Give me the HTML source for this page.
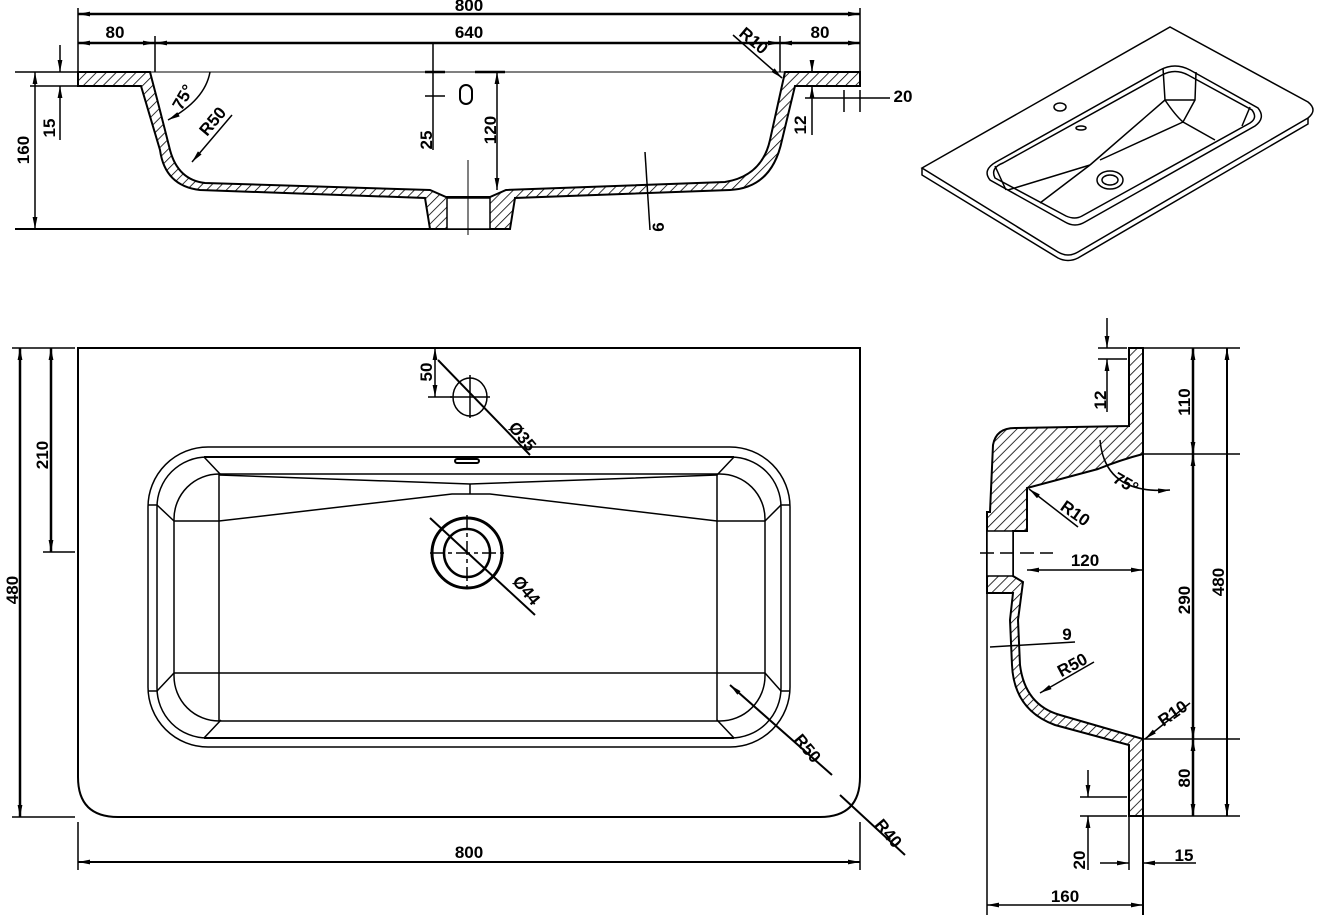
<!DOCTYPE html>
<html><head><meta charset="utf-8"><style>
html,body{margin:0;padding:0;background:#fff;}
svg{display:block;}
text{font-family:"Liberation Sans",sans-serif;font-size:17px;font-weight:bold;fill:#000;}
</style></head><body>
<svg width="1318" height="919" viewBox="0 0 1318 919" xmlns="http://www.w3.org/2000/svg">
<defs>
<pattern id="h" patternUnits="userSpaceOnUse" width="7" height="7" patternTransform="rotate(45)">
<rect width="7" height="7" fill="#fff"/><line x1="0" y1="0" x2="0" y2="7" stroke="#000" stroke-width="1.6"/>
</pattern>
<marker id="a" viewBox="0 0 10 4" refX="10" refY="2" markerUnits="userSpaceOnUse" markerWidth="12" markerHeight="5" orient="auto-start-reverse"><path d="M0,0 L10,2 L0,4z" fill="#000"/></marker>
</defs>
<g fill="none" stroke="#000" stroke-width="1.5">

<!-- ===== TOP SECTION ===== -->
<path d="M78,72 L150,72 Q160,110 170,150 Q178,180 205,183 L430,190 L446,197 L490,197 L506,190 L725,182 Q762,176 770,140 L785,72 L860,72 L860,86 L795,86 L782,140 Q772,188 730,190 L515,198 L510,229 L430,229 L425,198 L200,190 Q165,186 160,150 L141,86 L78,86 Z" fill="url(#h)" stroke-width="2"/>
<rect x="447" y="198" width="43" height="31" fill="#fff" stroke-width="1.5"/>
<line x1="150" y1="72" x2="785" y2="72" stroke-width="1"/>
<line x1="468" y1="160" x2="468" y2="235" stroke-width="1"/>
<rect x="460" y="85" width="12" height="19" rx="6" stroke-width="2"/>
<line x1="78" y1="8" x2="78" y2="86" stroke-width="1.5"/>
<line x1="860" y1="8" x2="860" y2="72" stroke-width="1.5"/>
<line x1="78" y1="14" x2="860" y2="14" stroke-width="2.5" marker-start="url(#a)" marker-end="url(#a)"/>
<line x1="78" y1="43" x2="155" y2="43" stroke-width="2.5" marker-start="url(#a)" marker-end="url(#a)"/>
<line x1="155" y1="43" x2="780" y2="43" stroke-width="2.5" marker-start="url(#a)" marker-end="url(#a)"/>
<line x1="780" y1="43" x2="860" y2="43" stroke-width="2.5" marker-start="url(#a)" marker-end="url(#a)"/>
<line x1="155" y1="36" x2="155" y2="72"/>
<line x1="780" y1="36" x2="780" y2="72"/>
<line x1="15" y1="72" x2="78" y2="72"/>
<line x1="15" y1="229" x2="430" y2="229" stroke-width="2"/>
<line x1="35" y1="72" x2="35" y2="229" marker-start="url(#a)" marker-end="url(#a)"/>
<line x1="30" y1="86" x2="78" y2="86"/>
<line x1="60" y1="45" x2="60" y2="72" marker-end="url(#a)"/>
<line x1="60" y1="86" x2="60" y2="140" marker-start="url(#a)"/>
<line x1="433" y1="43" x2="433" y2="150"/>
<line x1="425" y1="72" x2="445" y2="72" stroke-width="2.5"/>
<line x1="425" y1="96" x2="445" y2="96"/>
<line x1="497" y1="72" x2="497" y2="190" marker-start="url(#a)" marker-end="url(#a)"/>
<line x1="475" y1="72" x2="505" y2="72" stroke-width="2.5"/>
<line x1="812" y1="60" x2="812" y2="72" marker-end="url(#a)"/>
<line x1="812" y1="86" x2="812" y2="135" marker-start="url(#a)"/>
<line x1="805" y1="98" x2="890" y2="98" />
<line x1="844" y1="90" x2="844" y2="112"/><line x1="860" y1="90" x2="860" y2="112"/>
<line x1="645" y1="152" x2="650" y2="230"/>
<line x1="733" y1="35" x2="782" y2="78" marker-end="url(#a)"/>
<line x1="232" y1="115" x2="192" y2="162" marker-end="url(#a)"/>
<path d="M210,72 Q205,100 168,120" marker-end="url(#a)"/>
</g>
<text x="469" y="11" text-anchor="middle">800</text>
<text x="115" y="38" text-anchor="middle">80</text>
<text x="469" y="38" text-anchor="middle">640</text>
<text x="820" y="38" text-anchor="middle">80</text>
<text transform="translate(29,150) rotate(-90)" text-anchor="middle">160</text>
<text transform="translate(55,128) rotate(-90)" text-anchor="middle">15</text>
<text transform="translate(432,140) rotate(-90)" text-anchor="middle">25</text>
<text transform="translate(496,130) rotate(-90)" text-anchor="middle">120</text>
<text transform="translate(806,125) rotate(-90)" text-anchor="middle">12</text>
<text x="903" y="102" text-anchor="middle">20</text>
<text transform="translate(664,227) rotate(-90)" text-anchor="middle">6</text>
<text transform="translate(750,45) rotate(40)" text-anchor="middle">R10</text>
<text transform="translate(217,125) rotate(-50)" text-anchor="middle">R50</text>
<text transform="translate(188,100) rotate(-60)" text-anchor="middle">75°</text>

<!-- ===== 3D VIEW ===== -->
<g fill="none" stroke="#000" stroke-width="1.5">
<path d="M922,168 L1170,27 L1308,102 Q1318,110 1308,118 L1078,252 Q1068,258 1058,252 Z"/>
<path d="M922,168 L922,175 L1058,258 Q1068,263 1078,258 L1308,124 L1308,118"/>
<path d="M996,162 L1160,70 Q1175,62 1190,70 L1258,108 Q1266,118 1255,126 L1085,222 Q1075,228 1065,222 L990,180 Q982,170 996,162 Z"/>
<path d="M1003,163 L1162,75 Q1175,68 1188,75 L1252,110 Q1258,118 1250,123 L1082,216 Q1075,220 1066,216 L995,178 Q990,168 1003,163 Z"/>
<path d="M1163,68 L1165,100 Q1175,115 1183,122 L1195,100 L1196,72"/>
<line x1="1165" y1="100" x2="1195" y2="100"/>
<line x1="1165" y1="100" x2="1090" y2="165"/>
<line x1="1183" y1="122" x2="1100" y2="160"/>
<line x1="1090" y1="165" x2="1008" y2="190"/>
<line x1="1090" y1="165" x2="1040" y2="203"/>
<line x1="1183" y1="122" x2="1215" y2="140"/>
<line x1="995" y1="166" x2="1006" y2="190"/>
<line x1="1250" y1="107" x2="1242" y2="126"/>
<ellipse cx="1110" cy="180" rx="13" ry="9"/>
<ellipse cx="1110" cy="180" rx="8" ry="5"/>
<ellipse cx="1060" cy="107" rx="6" ry="4"/>
<ellipse cx="1081" cy="128" rx="5" ry="2"/>
</g>

<!-- ===== PLAN VIEW ===== -->
<g fill="none" stroke="#000" stroke-width="1.5">
<path d="M78,348 L860,348 L860,777 Q860,817 820,817 L118,817 Q78,817 78,777 Z" stroke-width="2"/>
<rect x="148" y="447" width="642" height="300" rx="60"/>
<rect x="157" y="457" width="624" height="281" rx="50"/>
<rect x="174" y="474" width="591" height="247" rx="45"/>
<line x1="204" y1="457" x2="734" y2="457" stroke-width="2"/>
<line x1="204" y1="738" x2="734" y2="738" stroke-width="2"/>
<line x1="219" y1="474" x2="219" y2="721"/><line x1="717" y1="474" x2="717" y2="721"/>
<line x1="174" y1="673" x2="765" y2="673"/>
<path d="M219,475 L470,484 L717,475"/>
<path d="M174,521 L219,521 L452,494 L490,494 L717,521 L765,521"/>
<line x1="470" y1="484" x2="470" y2="494"/>
<line x1="204" y1="457" x2="221" y2="475"/><line x1="734" y1="457" x2="717" y2="475"/>
<line x1="204" y1="738" x2="221" y2="720"/><line x1="734" y1="738" x2="717" y2="720"/>
<line x1="148" y1="505" x2="157" y2="505"/><line x1="148" y1="691" x2="157" y2="691"/>
<line x1="781" y1="505" x2="790" y2="505"/><line x1="781" y1="691" x2="790" y2="691"/>
<line x1="157" y1="505" x2="174" y2="521"/><line x1="781" y1="505" x2="765" y2="521"/>
<line x1="157" y1="691" x2="174" y2="673"/><line x1="781" y1="691" x2="765" y2="673"/>
<rect x="455" y="459" width="24" height="4" rx="2" stroke-width="2"/>
<ellipse cx="470" cy="397" rx="17" ry="19"/>
<line x1="450" y1="397" x2="490" y2="397"/><line x1="470" y1="375" x2="470" y2="418"/>
<ellipse cx="467" cy="553" rx="35" ry="35" stroke-width="3"/>
<ellipse cx="467" cy="553" rx="23" ry="24" stroke-width="2.5"/>
<line x1="430" y1="553" x2="506" y2="553" stroke-dasharray="14,4,4,4"/>
<line x1="467" y1="515" x2="467" y2="591" stroke-dasharray="14,4,4,4"/>
<line x1="430" y1="518" x2="535" y2="615" stroke-width="2"/>
<line x1="438" y1="360" x2="530" y2="455" stroke-width="2"/>
<line x1="730" y1="685" x2="832" y2="775" stroke-width="2" marker-start="url(#a)"/>
<line x1="840" y1="795" x2="905" y2="855" stroke-width="2"/>
<line x1="435" y1="348" x2="435" y2="397" marker-start="url(#a)" marker-end="url(#a)"/>
<line x1="428" y1="397" x2="452" y2="397"/>
<line x1="12" y1="348" x2="75" y2="348"/>
<line x1="12" y1="817" x2="75" y2="817"/>
<line x1="20" y1="348" x2="20" y2="817" stroke-width="2.5" marker-start="url(#a)" marker-end="url(#a)"/>
<line x1="43" y1="552" x2="75" y2="552"/>
<line x1="51" y1="348" x2="51" y2="552" stroke-width="2.5" marker-start="url(#a)" marker-end="url(#a)"/>
<line x1="78" y1="822" x2="78" y2="870"/><line x1="860" y1="822" x2="860" y2="870"/>
<line x1="78" y1="862" x2="860" y2="862" stroke-width="2" marker-start="url(#a)" marker-end="url(#a)"/>
</g>
<text transform="translate(18,590) rotate(-90)" text-anchor="middle">480</text>
<text transform="translate(48,455) rotate(-90)" text-anchor="middle">210</text>
<text x="469" y="858" text-anchor="middle">800</text>
<text transform="translate(432,372) rotate(-90)" text-anchor="middle">50</text>
<text transform="translate(518,440) rotate(50)" text-anchor="middle">Ø35</text>
<text transform="translate(522,594) rotate(50)" text-anchor="middle">Ø44</text>
<text transform="translate(803,752) rotate(50)" text-anchor="middle">R50</text>
<text transform="translate(884,837) rotate(50)" text-anchor="middle">R40</text>

<!-- ===== SIDE VIEW ===== -->
<g fill="none" stroke="#000" stroke-width="1.5">
<path d="M1129,348 L1143,348 L1143,454 Q1120,460 1098,469 L1027,488 L1027,531 L1013,531 L1013,576 L1023,582 L1018,620 L1020,665 Q1025,705 1060,715 L1143,739 L1143,816 L1129,816 L1129,745 L1055,725 Q1014,710 1012,665 L1010,620 L1013,593 L987,593 L987,576 L987,531 L987,512 L990,512 L993,445 Q996,428 1015,428 L1129,426 Z" fill="url(#h)" stroke-width="2"/>
<rect x="987" y="531" width="26" height="45" fill="#fff"/>
<line x1="1143" y1="348" x2="1143" y2="915" stroke-width="2"/>
<line x1="1129" y1="816" x2="1129" y2="870"/>
<line x1="987" y1="593" x2="987" y2="915"/>
<line x1="1143" y1="348" x2="1240" y2="348"/>
<line x1="1143" y1="454" x2="1240" y2="454"/>
<line x1="1143" y1="739" x2="1240" y2="739"/>
<line x1="1143" y1="816" x2="1240" y2="816"/>
<line x1="1193" y1="348" x2="1193" y2="454" stroke-width="2.5" marker-start="url(#a)" marker-end="url(#a)"/>
<line x1="1193" y1="454" x2="1193" y2="739" stroke-width="2.5" marker-start="url(#a)" marker-end="url(#a)"/>
<line x1="1193" y1="739" x2="1193" y2="816" stroke-width="2.5" marker-start="url(#a)" marker-end="url(#a)"/>
<line x1="1227" y1="348" x2="1227" y2="816" stroke-width="2" marker-start="url(#a)" marker-end="url(#a)"/>
<line x1="1027" y1="570" x2="1143" y2="570" marker-start="url(#a)" marker-end="url(#a)"/>
<line x1="980" y1="553" x2="1053" y2="553" stroke-dasharray="14,6"/>
<line x1="990" y1="647" x2="1075" y2="642"/>
<line x1="1098" y1="348" x2="1127" y2="348"/>
<line x1="1098" y1="359" x2="1127" y2="359"/>
<line x1="1107" y1="318" x2="1107" y2="348" marker-end="url(#a)"/>
<line x1="1107" y1="359" x2="1107" y2="412" marker-start="url(#a)"/>
<line x1="1080" y1="797" x2="1127" y2="797"/>
<line x1="1080" y1="816" x2="1127" y2="816"/>
<line x1="1088" y1="770" x2="1088" y2="797" marker-end="url(#a)"/>
<line x1="1088" y1="816" x2="1088" y2="870" marker-start="url(#a)"/>
<line x1="1100" y1="863" x2="1129" y2="863" marker-end="url(#a)"/>
<line x1="1143" y1="863" x2="1196" y2="863" marker-start="url(#a)"/>
<line x1="987" y1="905" x2="1143" y2="905" marker-start="url(#a)" marker-end="url(#a)"/>
<line x1="1078" y1="527" x2="1029" y2="489" marker-end="url(#a)"/>
<line x1="1094" y1="662" x2="1040" y2="693" marker-end="url(#a)"/>
<line x1="1190" y1="703" x2="1145" y2="739" marker-end="url(#a)"/>
<path d="M1100,440 Q1105,495 1170,490" marker-end="url(#a)"/>
</g>
<text transform="translate(1106,400) rotate(-90)" text-anchor="middle">12</text>
<text transform="translate(1190,402) rotate(-90)" text-anchor="middle">110</text>
<text transform="translate(1190,600) rotate(-90)" text-anchor="middle">290</text>
<text transform="translate(1224,582) rotate(-90)" text-anchor="middle">480</text>
<text transform="translate(1190,778) rotate(-90)" text-anchor="middle">80</text>
<text transform="translate(1085,860) rotate(-90)" text-anchor="middle">20</text>
<text x="1184" y="861" text-anchor="middle">15</text>
<text x="1065" y="902" text-anchor="middle">160</text>
<text x="1085" y="566" text-anchor="middle">120</text>
<text x="1067" y="640" text-anchor="middle">9</text>
<text transform="translate(1072,518) rotate(35)" text-anchor="middle">R10</text>
<text transform="translate(1075,670) rotate(-28)" text-anchor="middle">R50</text>
<text transform="translate(1176,718) rotate(-35)" text-anchor="middle">R10</text>
<text transform="translate(1123,488) rotate(30)" text-anchor="middle">75°</text>
</svg>
</body></html>
